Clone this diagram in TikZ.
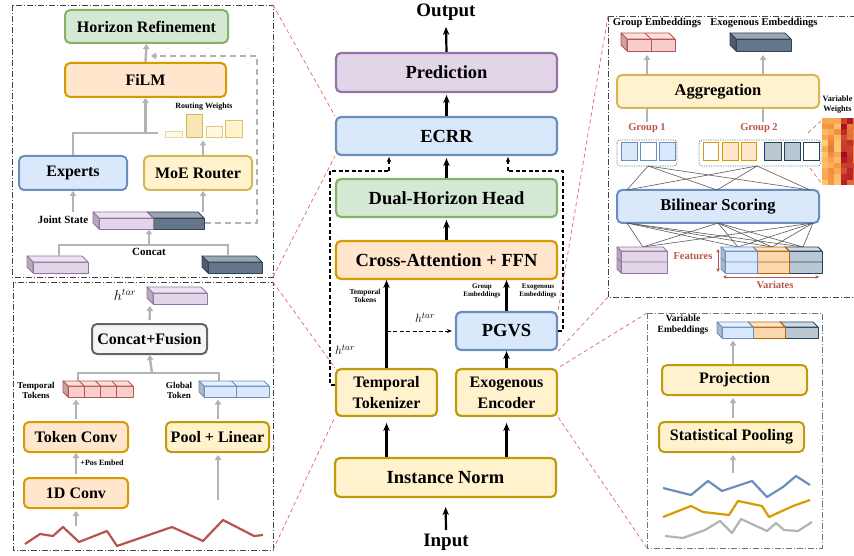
\documentclass[tikz,border=0pt]{standalone}
\usepackage{fontspec}
\setmainfont{Liberation Serif}
\usetikzlibrary{arrows.meta}
\definecolor{grnF}{HTML}{D5E8D4}\definecolor{grnD}{HTML}{82B366}
\definecolor{orgF}{HTML}{FFE6CC}\definecolor{orgD}{HTML}{D79B00}
\definecolor{bluF}{HTML}{DAE8FC}\definecolor{bluD}{HTML}{6C8EBF}
\definecolor{yelF}{HTML}{FFF2CC}\definecolor{yelD}{HTML}{D6B656}
\definecolor{golD}{HTML}{BF9A0C}
\definecolor{purF}{HTML}{E1D5E7}\definecolor{purD}{HTML}{9673A6}
\definecolor{gryF}{HTML}{F5F5F5}\definecolor{gryD}{HTML}{666666}
\definecolor{redF}{HTML}{F8CECC}\definecolor{redD}{HTML}{B85450}
\definecolor{slaF}{HTML}{647687}\definecolor{slaD}{HTML}{314354}
\definecolor{sllF}{HTML}{BAC8D3}\definecolor{sllD}{HTML}{23445D}
\definecolor{or2F}{HTML}{FAD7AC}\definecolor{or2D}{HTML}{B46504}
\definecolor{gcol}{HTML}{B3B3B3}
\definecolor{rdash}{HTML}{E06666}
\definecolor{hmLow}{HTML}{FFE08A}\definecolor{hmMid}{HTML}{F7913D}\definecolor{hmHigh}{HTML}{A50021}
\definecolor{frm}{HTML}{444444}
\newcommand{\blk}[8][5]{%
  \filldraw[fill=#7, draw=#8, line width=0.9pt, line join=round] ({#2+#1},{#3+#1}) rectangle (#4,#5);
  \filldraw[fill=#7!65!white, draw=#8, line width=0.9pt, line join=round] (#2,#3) -- ({#4-#1},#3) -- (#4,{#3+#1}) -- ({#2+#1},{#3+#1}) -- cycle;
  \filldraw[fill=#7!80!black, draw=#8, line width=0.9pt, line join=round] (#2,#3) -- ({#2+#1},{#3+#1}) -- ({#2+#1},#5) -- (#2,{#5-#1}) -- cycle;
  \ifnum#6>1
    \pgfmathsetmacro{\cw}{(#4-#2-#1)/#6}%
    \pgfmathtruncatemacro{\nm}{#6-1}%
    \foreach \k in {1,...,\nm}{%
      \draw[draw=#8, line width=0.9pt] ({#2+#1+\k*\cw},{#3+#1}) -- ({#2+#1+\k*\cw},#5);
      \draw[draw=#8, line width=0.9pt] ({#2+\k*\cw},#3) -- ({#2+#1+\k*\cw},{#3+#1});
    }%
  \fi}
\newcommand{\rowln}[6]{%
  \draw[draw=#6, line width=0.9pt] (#2,{(#3+#1+#5)/2-#1}) -- ({#2+#1},{(#3+#1+#5)/2}) -- (#4,{(#3+#1+#5)/2});}
\begin{document}
\begin{tikzpicture}[x=1pt,y=-1pt,
  box/.style={rounded corners=5pt, line width=2pt, inner sep=0pt, align=center, font=\bfseries\fontsize{16}{20}\selectfont},
  cbox/.style={box, line width=2.2pt, font=\bfseries\fontsize{18.5}{22}\selectfont},
  gbox/.style={fill=grnF, draw=grnD}, obox/.style={fill=orgF, draw=orgD},
  bbox/.style={fill=bluF, draw=bluD}, ybox/.style={fill=yelF, draw=yelD},
  dbox/.style={fill=yelF, draw=golD}, pbox/.style={fill=purF, draw=purD},
  xbox/.style={fill=gryF, draw=gryD},
  lbl/.style={inner sep=0pt, align=center, font=\bfseries\fontsize{#1}{#1}\selectfont},
  barr/.style={draw=black, line width=2.2pt, -{Stealth[length=8pt,width=6.5pt]}},
  garr/.style={draw=gcol, line width=2.4pt, -{Triangle[length=5pt,width=6.5pt]}},
  gline/.style={draw=gcol, line width=2.4pt},
  kdash/.style={draw=black, line width=1.3pt, dash pattern=on 4pt off 2.5pt},
  rd/.style={draw=rdash, line width=0.7pt, dash pattern=on 4pt off 3pt},
  frame/.style={draw=frm, line width=0.9pt, dash pattern=on 6pt off 2pt on 1pt off 2pt},
  thinl/.style={draw=black!65, line width=0.6pt},
  dotbox/.style={draw=black!55, line width=0.8pt, dash pattern=on 1.2pt off 1.2pt, rounded corners=3pt},
  cell/.style={line width=1pt}]
\clip (0,0) rectangle (854,556);

% ---------------- panel frames ----------------
\coordinate (tlA) at (12,5); \coordinate (tlB) at (273,277);
\coordinate (blA) at (13,282); \coordinate (blB) at (273,550);
\coordinate (trA) at (608,16); \coordinate (trB) at (880,297);
\coordinate (brA) at (647,313); \coordinate (brB) at (822,548);
\draw[frame] (tlA) rectangle (tlB);
\draw[frame] (blA) rectangle (blB);
\draw[frame] (trA) rectangle (trB);
\draw[frame, draw=black!55] (brA) rectangle (brB);

% ---------------- centre column ----------------
\node[lbl=19] (out) at (446,12) {Output};
\node[lbl=19] (inp) at (446,542) {Input};
\node[cbox, pbox, minimum width=221pt, minimum height=39pt] (pred) at (446.5,72.5) {Prediction};
\node[cbox, bbox, minimum width=221pt, minimum height=38pt] (ecrr) at (446.5,136) {ECRR};
\node[cbox, gbox, minimum width=221pt, minimum height=38pt] (dhh) at (446.5,198) {Dual-Horizon Head};
\node[cbox, obox, minimum width=221pt, minimum height=38pt] (caf) at (446.5,260) {Cross-Attention + FFN};
\node[cbox, bbox, minimum width=101pt, minimum height=38pt] (pgvs) at (506.5,331) {PGVS};
\node[box, dbox, line width=2.2pt, minimum width=101pt, minimum height=47pt, font=\bfseries\fontsize{16}{21}\selectfont] (ttok) at (386.5,392.5) {Temporal\\Tokenizer};
\node[box, dbox, line width=2.2pt, minimum width=101pt, minimum height=47pt, font=\bfseries\fontsize{16}{21}\selectfont] (exenc) at (506.5,392.5) {Exogenous\\Encoder};
\node[cbox, dbox, minimum width=221pt, minimum height=39pt] (inorm) at (445.5,477.5) {Instance Norm};

\coordinate (outA) at (446,27);
\coordinate (inA) at (446,530);
\draw[barr] (pred.north) -- (outA);
\draw[barr, shorten >=2pt] (ecrr.north) -- (pred.south);
\draw[barr, shorten >=2pt] (dhh.north) -- (ecrr.south);
\draw[barr, shorten >=2pt] (caf.north) -- (dhh.south);
\draw[barr] (ttok.north) -- (ttok.north |- caf.south);
\draw[barr] (pgvs.north) -- (pgvs.north |- caf.south);
\draw[barr] (exenc.north) -- (pgvs.south);
\draw[barr, shorten >=6pt] (ttok.south |- inorm.north) -- (ttok.south);
\draw[barr, shorten >=6pt] (exenc.south |- inorm.north) -- (exenc.south);
\draw[barr, shorten >=9pt] (inA) -- (inorm.south);

\draw[kdash, line width=1pt, shorten >=3pt, -{Stealth[length=5pt,width=4pt]}] (ttok.north |- pgvs.west) -- (pgvs.west);
\coordinate (dl1) at (330,385); \coordinate (dl2) at (330,171); \coordinate (dl3) at (389,171);
\coordinate (dr1) at (563,331); \coordinate (dr2) at (563,171); \coordinate (dr3) at (508,171);
\draw[kdash] (ttok.west |- dl1) -- (dl1) -- (dl2) -- (dl3);
\draw[kdash, shorten >=1pt, -{Stealth[length=5pt,width=4.5pt]}] (dl3) -- (dl3 |- ecrr.south);
\draw[kdash] (pgvs.east) -- (dr1) -- (dr2) -- (dr3);
\draw[kdash, shorten >=1pt, -{Stealth[length=5pt,width=4.5pt]}] (dr3) -- (dr3 |- ecrr.south);

\node[lbl=7.5, font=\bfseries\fontsize{7.5}{8.5}\selectfont] (ctt) at (365,296) {Temporal\\Tokens};
\node[lbl=7, font=\bfseries\fontsize{7}{8}\selectfont] (cge) at (482,291) {Group\\Embeddings};
\node[lbl=7, font=\bfseries\fontsize{7}{8}\selectfont] (cee) at (538,291) {Exogenous\\Embeddings};
\node[inner sep=0pt, font=\fontsize{13}{13}\selectfont] (ch1) at (425,318) {$h^{tar}$};
\node[inner sep=0pt, font=\fontsize{13}{13}\selectfont] (ch2) at (345,350) {$h^{tar}$};

% ---------------- red dashed zoom lines ----------------
\draw[rd] (tlA -| tlB) -- (ecrr.north west);
\draw[rd] (tlB) -- (ecrr.south west);
\draw[rd] (blA -| blB) -- (ttok.north west);
\draw[rd] (blB) -- (ttok.south west);
\draw[rd] (trA) -- (pgvs.north east);
\draw[rd] (trA |- trB) -- (pgvs.south east);
\draw[rd] (brA) -- (exenc.north east);
\draw[rd] (brA |- brB) -- (exenc.south east);

% ---------------- top-left panel ----------------
\node[box, gbox, minimum width=163pt, minimum height=33pt] (hr) at (146.5,26.5) {Horizon Refinement};
\node[box, obox, minimum width=161pt, minimum height=34pt] (film) at (145.5,80) {FiLM};
\node[box, bbox, minimum width=108pt, minimum height=34pt] (experts) at (73,173) {Experts};
\node[box, ybox, minimum width=108pt, minimum height=34pt] (moe) at (198,173) {MoE Router};
\node[lbl=8] (rw) at (204,107) {Routing Weights};
\filldraw[fill=yelF!45!white, draw=yelD!55!white, line width=1pt] (165,132) rectangle (182,137.5);
\filldraw[fill=yelF!80!yelD, draw=yelD, line width=1pt] (186,115) rectangle (202,137.5);
\filldraw[fill=yelF!60!white, draw=yelD!75!white, line width=1pt] (206,127) rectangle (222,137.5);
\filldraw[fill=yelF, draw=yelD!85!white, line width=1pt] (225,121) rectangle (242,137.5);
\coordinate (rwL) at (158,133);
\draw[gline] (experts.north) |- (rwL);
\draw[garr] (film.south |- rwL) -- (film.south);
\draw[garr] (film.north) -- (hr.south);
\coordinate (moeT) at (203,156); \coordinate (moeW) at (203,140.5);
\draw[garr] (moeT) -- (moeW);
% joint state
\blk[6]{147}{212}{204}{229}{1}{slaF}{slaD}
\blk[6]{93}{212}{153}{229}{1}{purF}{purD}
\coordinate (jsE) at (205,223);
\coordinate (js1) at (73,212); \coordinate (js2) at (203,212);
\draw[garr] (js1) -- (experts.south);
\draw[garr] (js2) -- (js2 |- moe.south);
\draw[draw=gcol, line width=2.2pt, dash pattern=on 6pt off 4pt, -{Triangle[length=5pt,width=6.5pt]}] (jsE) -- (257,223) -- (257,56) -- (151,56);
\node[lbl=11] (jsl) at (63,220) {Joint State};
% concat
\blk[6]{27}{256}{88}{273}{1}{purF}{purD}
\blk[6]{202}{256}{262}{273}{1}{slaF}{slaD}
\coordinate (cc1) at (59,256); \coordinate (cc2) at (228,256); \coordinate (ccM) at (149,245);
\draw[gline] (cc1) |- (cc2 |- ccM) -- (cc2);
\draw[garr] (ccM) -- (149,229.5);
\node[lbl=11] (ccl) at (149,251.5) {Concat};

% ---------------- bottom-left panel ----------------
\node[inner sep=0pt, font=\fontsize{14}{14}\selectfont] (bh) at (125,295) {$h^{tar}$};
\blk[6]{147}{287}{207}{304}{1}{purF}{purD}
\node[box, xbox, minimum width=115pt, minimum height=30pt] (cf) at (149.5,339) {Concat+Fusion};
\draw[garr, shorten <=3pt] (cf.north) -- (150,306);
\coordinate (br1) at (78,381); \coordinate (br2) at (219,381); \coordinate (brM) at (152,373);
\draw[gline] (br1) |- (br2 |- brM) -- (br2);
\draw[garr] (brM) -- (cf.south);
\blk[5]{63}{381}{133}{397}{4}{redF}{redD}
\blk[5]{199}{381}{269}{397}{2}{bluF}{bluD}
\node[lbl=9, font=\bfseries\fontsize{9}{10}\selectfont] (btt) at (36,390) {Temporal\\Tokens};
\node[lbl=9, font=\bfseries\fontsize{9}{10}\selectfont] (bgt) at (179,390) {Global\\Token};
\node[box, obox, minimum width=104pt, minimum height=30pt] (tc) at (76,437) {Token Conv};
\node[box, dbox, minimum width=103pt, minimum height=30pt] (pl) at (217.5,437) {Pool + Linear};
\node[box, obox, minimum width=104pt, minimum height=30pt] (c1d) at (76,493) {1D Conv};
\draw[garr, shorten <=2pt] (tc.north) -- (76,399.5);
\draw[garr, shorten <=3pt] (c1d.north) -- (tc.south);
\node[lbl=8] (pe) at (102,463) {+Pos Embed};
\coordinate (c1A) at (76,526);
\draw[garr, shorten >=2pt] (c1A) -- (c1d.south);
\coordinate (plA) at (218,500);
\draw[garr, shorten >=2pt] (plA) -- (plA |- pl.south);
\draw[garr, shorten <=2pt] (pl.north -| plA) -- (218,399.5);
\draw[draw=redD, line width=2.2pt, line join=round] (25,544) -- (40,534) -- (53,536) -- (63,527) -- (79,542) -- (107,531) -- (117,546) -- (172,527) -- (203,541) -- (223,520) -- (254,536) -- (263,535);

% ---------------- top-right panel ----------------
\node[lbl=10.5] (tge) at (657,23) {Group Embeddings};
\node[lbl=10.5] (tee) at (764,23) {Exogenous Embeddings};
\blk[6]{621}{33}{675}{51}{2}{redF}{redD}
\blk[6]{730}{33}{791}{51}{1}{slaF}{slaD}
\node[box, ybox, minimum width=202pt, minimum height=33pt, font=\bfseries\fontsize{16.5}{20}\selectfont] (agg) at (718,91.5) {Aggregation};
\coordinate (ag1) at (647,55); \coordinate (ag2) at (763,55);
\draw[garr] (agg.north -| ag1) -- (ag1);
\draw[garr] (agg.north -| ag2) -- (ag2);
\draw[gline] (agg.south -| ag1) -- ++(0,13);
\draw[gline] (agg.south -| ag2) -- ++(0,13);
\node[lbl=10.5, text=redD] (g1) at (647,128.5) {Group 1};
\node[lbl=10.5, text=redD] (g2) at (759,128.5) {Group 2};
\draw[dotbox] (617,140) rectangle (677,166);
\draw[dotbox] (699,140) rectangle (821,166);
\filldraw[cell, fill=bluF, draw=bluD] (621,143) rectangle (637,161);
\filldraw[cell, fill=white, draw=bluD] (640,143) rectangle (656,161);
\filldraw[cell, fill=bluF, draw=bluD] (659,143) rectangle (675,161);
\filldraw[cell, fill=white, draw=orgD] (703,143) rectangle (718,161);
\filldraw[cell, fill=orgF, draw=orgD] (722,143) rectangle (738,161);
\filldraw[cell, fill=orgF, draw=orgD] (741,143) rectangle (756,161);
\filldraw[cell, fill=sllF, draw=sllD] (764,143) rectangle (781,161);
\filldraw[cell, fill=sllF, draw=sllD] (784,143) rectangle (800,161);
\filldraw[cell, fill=white, draw=sllD] (803,143) rectangle (819,161);
\node[box, bbox, minimum width=202pt, minimum height=33pt, font=\bfseries\fontsize{16.5}{20}\selectfont] (bs) at (718,206.5) {Bilinear Scoring};
\foreach \a in {648,757}{\foreach \b in {627,717,810}{\draw[thinl] (\a,166) -- (\b,190);}}
\foreach \a in {627,718,813}{\foreach \b in {643,738,772,803}{\draw[thinl] (\a,223) -- (\b,247);}}
\blk[4]{617}{247}{667}{273}{1}{purF}{purD}
\rowln{4}{617}{247}{667}{273}{purD}
\blk[4]{785}{247}{822}{273}{1}{sllF}{sllD}
\rowln{4}{785}{247}{822}{273}{sllD}
\blk[4]{753}{247}{789}{273}{1}{or2F}{or2D}
\rowln{4}{753}{247}{789}{273}{or2D}
\blk[4]{721}{247}{757}{273}{1}{bluF}{bluD}
\rowln{4}{721}{247}{757}{273}{bluD}
\node[lbl=10.5, text=redD] (feat) at (693,256) {Features};
\draw[draw=redD, line width=1pt, {Stealth[length=3.5pt,width=3.5pt]}-{Stealth[length=3.5pt,width=3.5pt]}] (718,249) -- (718,272);
\draw[draw=redD, line width=1pt, {Stealth[length=3.5pt,width=3.5pt]}-{Stealth[length=3.5pt,width=3.5pt]}] (723,277) -- (819,277);
\node[lbl=10.5, text=redD] (vari) at (775,284.5) {Variates};
% heatmap
\pgfmathsetseed{11}
\foreach \c in {0,...,5}{%
  \foreach \r in {0,...,11}{%
    \pgfmathparse{{30,42,34,92,76,62}[\c]}\let\bse\pgfmathresult
    \pgfmathtruncatemacro{\v}{max(0,min(100,\bse+40*(rnd-0.5)))}%
    \ifnum\v<50
      \pgfmathtruncatemacro{\w}{2*\v}\colorlet{hc}{hmMid!\w!hmLow}%
    \else
      \pgfmathtruncatemacro{\w}{2*(\v-50)}\colorlet{hc}{hmHigh!\w!hmMid}%
    \fi
    \fill[hc] ({822+\c*6.2},{118+\r*5.6}) rectangle ({828.4+\c*6.2},{123.8+\r*5.6});
  }}
\node[lbl=8.2, font=\bfseries\fontsize{8.2}{9.5}\selectfont] (vw) at (837.5,104.5) {Variable\\Weights};
\draw[rd] (808,133) -- (822,120);
\draw[rd] (810,168) -- (822,184);

% ---------------- bottom-right panel ----------------
\node[lbl=9.5, font=\bfseries\fontsize{9.5}{10.5}\selectfont] (ve) at (683,325) {Variable\\Embeddings};
\blk[5]{780}{322}{818}{338}{1}{sllF}{sllD}
\blk[5]{748}{322}{785}{338}{1}{or2F}{or2D}
\blk[5]{717}{322}{753}{338}{1}{bluF}{bluD}
\node[box, dbox, minimum width=145pt, minimum height=30pt] (proj) at (734.5,380) {Projection};
\node[box, dbox, minimum width=145pt, minimum height=30pt] (sp) at (731.5,437) {Statistical Pooling};
\coordinate (pjT) at (733,340.5); \coordinate (spA) at (733,473);
\draw[garr] (proj.north -| pjT) -- (pjT);
\draw[garr, shorten <=3pt, shorten >=2pt] (sp.north -| pjT) -- (proj.south -| pjT);
\draw[garr, shorten >=2pt] (spA) -- (sp.south -| spA);
\draw[draw=bluD, line width=2.2pt, line join=round] (663,488) -- (691,495) -- (708,481) -- (722,491) -- (752,481) -- (767,497) -- (783,487) -- (796,476) -- (810,485);
\draw[draw=orgD, line width=2.2pt, line join=round] (663,517) -- (691,506) -- (703,512) -- (729,515) -- (738,501) -- (762,506) -- (769,517) -- (793,506) -- (810,500);
\draw[draw=gcol, line width=2.2pt, line join=round] (665,536) -- (683,538) -- (705,530) -- (720,521) -- (732,533) -- (741,519) -- (767,531) -- (776,523) -- (784,530) -- (798,531) -- (812,522);
\end{tikzpicture}
\end{document}
